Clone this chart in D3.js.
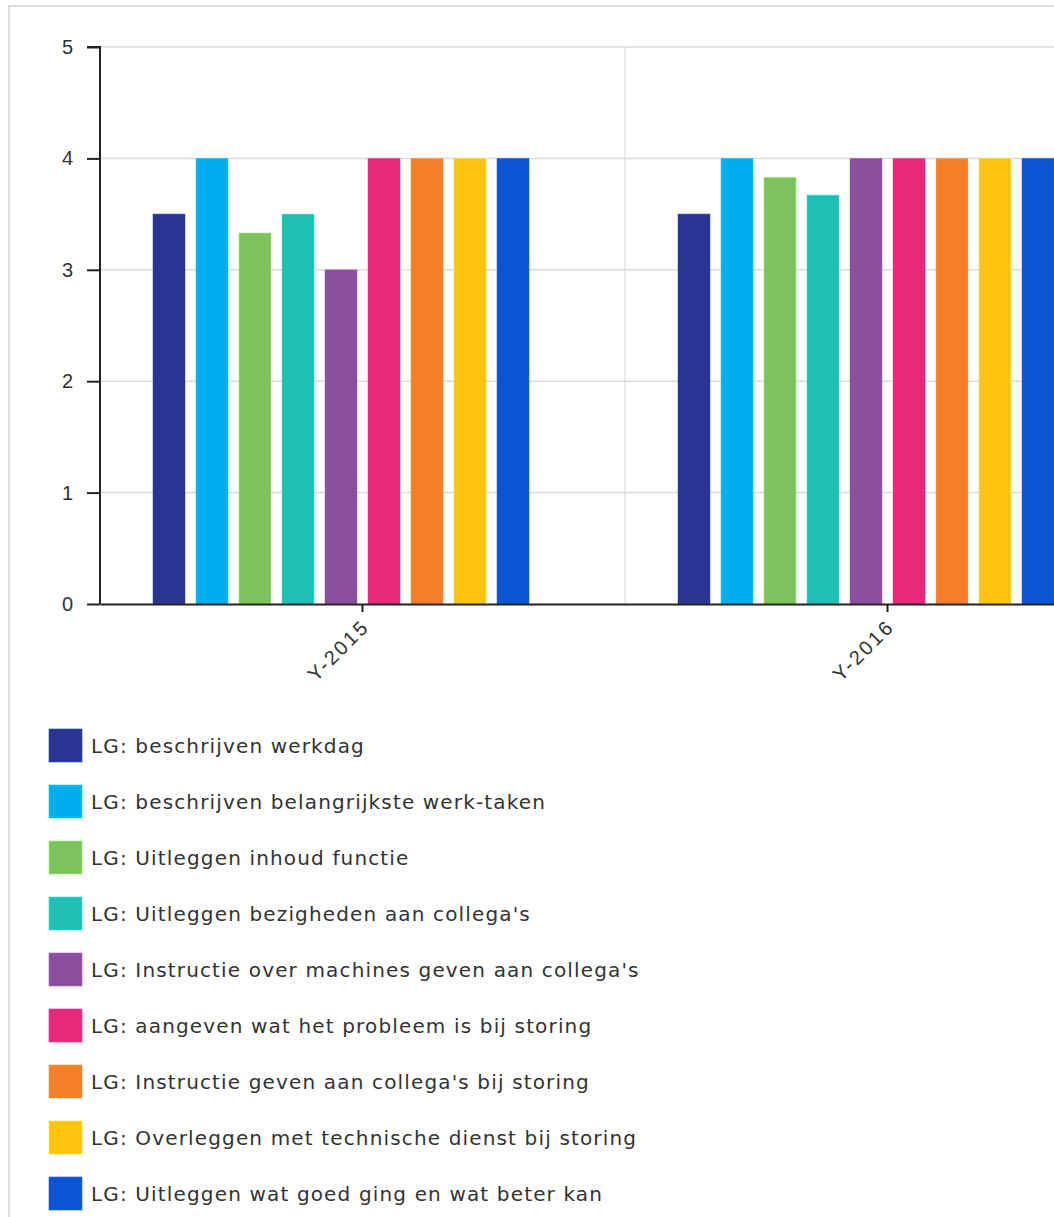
<!DOCTYPE html>
<html>
<head>
<meta charset="utf-8">
<script src="https://cdn.jsdelivr.net/npm/d3@7"></script>
<style>
  html, body { margin: 0; padding: 0; background: #fff; overflow: hidden; }
  svg { display: block; font-family: "DejaVu Sans", Verdana, sans-serif; }
</style>
</head>
<body>
<svg id="chart" width="1054" height="1217"></svg>
<script>
const categories = ["Y-2015", "Y-2016"];
const seriesNames = [
  "LG: beschrijven werkdag",
  "LG: beschrijven belangrijkste werk-taken",
  "LG: Uitleggen inhoud functie",
  "LG: Uitleggen bezigheden aan collega's",
  "LG: Instructie over machines geven aan collega's",
  "LG: aangeven wat het probleem is bij storing",
  "LG: Instructie geven aan collega's bij storing",
  "LG: Overleggen met technische dienst bij storing",
  "LG: Uitleggen wat goed ging en wat beter kan"
];
const seriesColors = ["#283593", "#00AEEF", "#7DC35B", "#20BFB3", "#8A4F9E", "#E72A77", "#F47F2B", "#FFC20E", "#0D54D2"];
const values2015 = [3.5, 4, 3.33, 3.5, 3, 4, 4, 4, 4];
const values2016 = [3.5, 4, 3.83, 3.67, 4, 4, 4, 4, 4];
const yTicks = [0, 1, 2, 3, 4, 5];
const slotCount = 10; // the chart reserves one more (empty) slot per group

const valuesByCategory = [values2015, values2016];
const data = categories.map((c, ci) => ({
  category: c,
  bars: seriesNames.map((s, si) => ({ series: s, index: si, value: valuesByCategory[ci][si] }))
}));

const svg = d3.select("#chart");

// frame
svg.append("rect")
  .attr("x", 9).attr("y", 6).attr("width", 1200).attr("height", 1300)
  .attr("fill", "none").attr("stroke", "#dedede").attr("stroke-width", 2);

const plotLeft = 100, plotTop = 47, plotBottom = 604;
const bandStep = 525;
const x0 = d3.scaleBand().domain(categories).range([plotLeft, plotLeft + bandStep * categories.length]).padding(0);
const x1 = d3.scaleBand().domain(d3.range(slotCount)).range([47.5, 477.5]).paddingInner(0.256).paddingOuter(0.128);
const y = d3.scaleLinear().domain([0, 5]).range([plotBottom, plotTop]);

// horizontal grid
svg.append("g").selectAll("line").data(yTicks.filter(t => t > 0)).join("line")
  .attr("x1", plotLeft).attr("x2", 1054)
  .attr("y1", d => y(d)).attr("y2", d => y(d))
  .attr("stroke", "#dcdcdc").attr("stroke-width", 1.5);

// vertical grid at band boundaries
svg.append("g").selectAll("line").data(categories.slice(1)).join("line")
  .attr("x1", d => x0(d)).attr("x2", d => x0(d))
  .attr("y1", plotTop).attr("y2", plotBottom)
  .attr("stroke", "#d6d6d6").attr("stroke-width", 1);

// bars
const groups = svg.append("g").selectAll("g").data(data).join("g")
  .attr("transform", d => `translate(${x0(d.category)},0)`);
groups.selectAll("rect").data(d => d.bars).join("rect")
  .attr("x", d => x1(d.index))
  .attr("width", x1.bandwidth())
  .attr("y", d => y(d.value))
  .attr("height", d => y(0) - y(d.value))
  .attr("fill", d => seriesColors[d.index])
  .attr("stroke", d => d3.color(seriesColors[d.index]).brighter(0.6))
  .attr("stroke-opacity", 0.5)
  .attr("stroke-width", 1);

// y axis
const yAxis = svg.append("g").attr("transform", `translate(${plotLeft},0)`)
  .call(d3.axisLeft(y).tickValues(yTicks).tickFormat(d3.format("d")).tickSize(13).tickPadding(14));
yAxis.select(".domain").attr("stroke", "#222").attr("stroke-width", 2).attr("d", `M-13,${plotTop}H0V${plotBottom}`);
yAxis.selectAll(".tick line").attr("stroke", "#222").attr("stroke-width", 2);
yAxis.selectAll(".tick text").attr("fill", "#333").style("font-size", "20px");

// x axis
const xAxis = svg.append("g").attr("transform", `translate(0,${plotBottom})`)
  .call(d3.axisBottom(x0).tickSize(8).tickSizeOuter(0));
xAxis.select(".domain").attr("stroke", "#222").attr("stroke-width", 2);
xAxis.selectAll(".tick line").attr("stroke", "#222").attr("stroke-width", 2);
xAxis.selectAll(".tick text")
  .attr("fill", "#333").style("font-size", "20px").style("letter-spacing", "2.4px")
  .attr("text-anchor", "end")
  .attr("dy", "0.35em")
  .attr("transform", "translate(3,19) rotate(-45)")
  .attr("y", 0).attr("x", 0);

// legend
const legend = svg.append("g").attr("transform", "translate(49,729)");
const items = legend.selectAll("g").data(seriesNames).join("g")
  .attr("transform", (d, i) => `translate(0,${i * 56})`);
items.append("rect")
  .attr("width", 33).attr("height", 33)
  .attr("fill", (d, i) => seriesColors[i])
  .attr("stroke", (d, i) => d3.color(seriesColors[i]).brighter(0.6))
  .attr("stroke-opacity", 0.6);
items.append("text")
  .attr("x", 42).attr("y", 17).attr("dy", "0.35em")
  .attr("fill", "#333").style("font-size", "20px").style("letter-spacing", "1.15px")
  .text(d => d);
</script>
</body>
</html>
